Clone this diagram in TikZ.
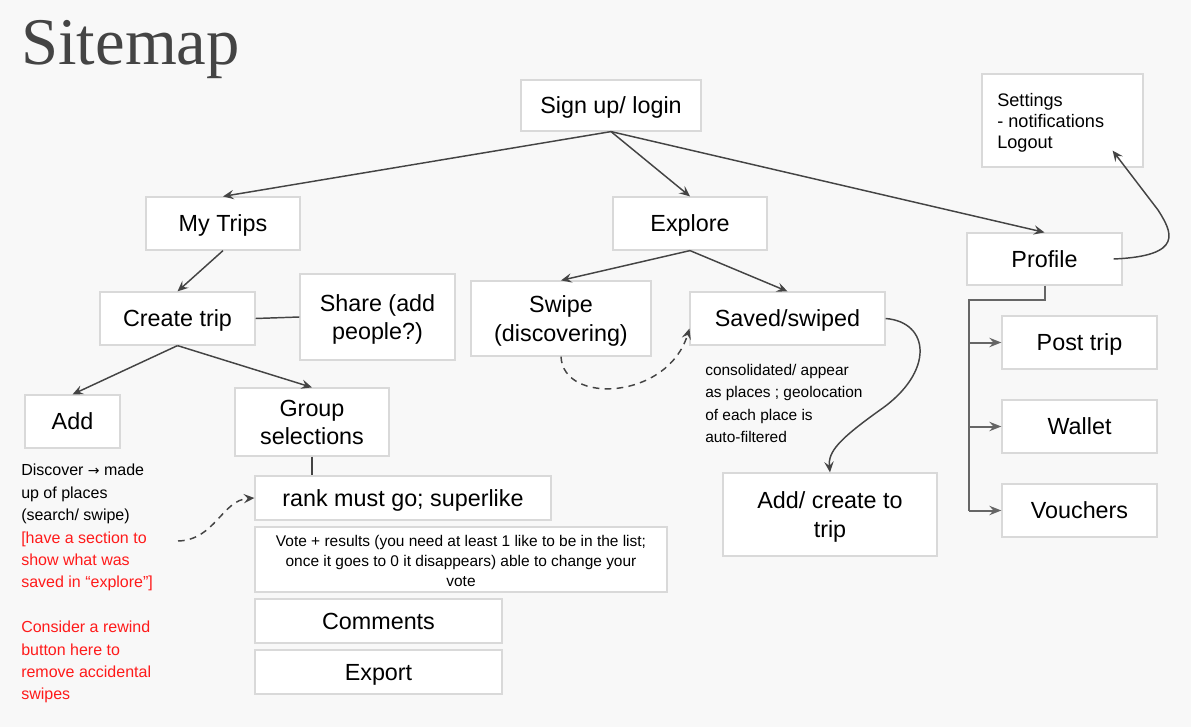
\documentclass[tikz,border=0pt]{standalone}
\usepackage{fontspec}
\setmainfont{Liberation Sans}
\newfontfamily\titlefont{Liberation Serif}
\newfontfamily\arrowfont{DejaVu Sans}
\usetikzlibrary{arrows.meta,calc}
\definecolor{bg}{HTML}{F8F8F8}
\definecolor{boxborder}{HTML}{D9D9D9}
\definecolor{linec}{HTML}{444444}
\definecolor{treec}{HTML}{666666}
\definecolor{notered}{HTML}{FF1A1A}
\definecolor{titlec}{HTML}{444444}
\tikzset{
  box/.style={draw=boxborder, fill=white, line width=0.9pt, inner sep=0pt, align=center,
    font=\fontsize{17.5pt}{21.5pt}\selectfont},
  smallbox/.style={font=\fontsize{11.6pt}{15pt}\selectfont},
  arr/.style={draw=linec, line width=1.1pt, -{Stealth[length=8pt,width=7pt,inset=3pt]}},
  plain/.style={draw=linec, line width=1.1pt},
  dsh/.style={arr, dashed, dash pattern=on 5pt off 4pt},
  tree/.style={draw=treec, line width=1.5pt},
  treearr/.style={tree, -{Stealth[length=9pt,width=7pt,inset=3pt]}},
  note/.style={inner sep=0pt, align=left, anchor=north west}
}
\newcommand\bx[7][]{\node[box,#1,minimum width={(#5-#3)*0.75pt},minimum height={(#6-#4)*0.75pt}] (#2) at ({(#3+#5)/2},{(#4+#6)/2}) {\raisebox{-2pt}[\height][\depth]{\begin{tabular}{@{}c@{}}#7\end{tabular}}};}
\renewcommand{\arraystretch}{1}
\begin{document}
\begin{tikzpicture}[x=0.75pt,y=-0.75pt]
\fill[bg] (0,0) rectangle (1191,727);
\useasboundingbox (0,0) rectangle (1191,727);
\node[anchor=base west, inner sep=0pt, text=titlec, font=\titlefont\fontsize{50pt}{55pt}\selectfont] (title) at (21,65) {Sitemap};

\bx{signup}{521}{80}{701}{131}{Sign up/ login}
\bx{settings}{982}{74}{1143}{167}{}
\node[inner sep=0pt, align=left, anchor=north west, font=\fontsize{13.6pt}{15.8pt}\selectfont] (settingstext) at (997,93) {Settings\\- notifications\\Logout};
\bx{mytrips}{146}{197}{300}{250}{My Trips}
\bx{explore}{613}{197}{767}{250}{Explore}
\bx{profile}{967}{233}{1122}{285}{Profile}
\bx{create}{100}{292}{255}{345}{Create trip}
\bx{share}{300}{274}{455}{360}{Share (add\\people?)}
\bx{swipe}{471}{281}{651}{356}{Swipe\\(discovering)}
\bx{saved}{690}{292}{885}{345}{Saved/swiped}
\bx{post}{1002}{316}{1157}{369}{Post trip}
\bx{add}{25}{395}{120}{448}{Add}
\bx{group}{235}{388}{389}{456}{Group\\selections}
\bx{wallet}{1002}{400}{1157}{453}{Wallet}
\bx{vouchers}{1002}{484}{1157}{537}{Vouchers}
\bx{addcreate}{723}{473}{937}{556}{Add/ create to\\trip}
\bx{rank}{255}{476}{551}{520}{rank must go; superlike}
\bx[smallbox]{vote}{255}{527}{667}{592}{Vote + results (you need at least 1 like to be in the list;\\once it goes to 0 it disappears) able to change your\\vote}
\bx{comments}{255}{599}{502}{643}{Comments}
\bx{export}{255}{650}{502}{694}{Export}

\node[note, font=\fontsize{12pt}{16.8pt}\selectfont] (addnote) at (21,464)
 {Discover {\arrowfont\fontsize{10.5pt}{10pt}\selectfont →} made\\up of places\\(search/ swipe)\\
  \textcolor{notered}{[have a section to}\\\textcolor{notered}{show what was}\\\textcolor{notered}{saved in “explore”]}\\[16.8pt]
  \textcolor{notered}{Consider a rewind}\\\textcolor{notered}{button here to}\\\textcolor{notered}{remove accidental}\\\textcolor{notered}{swipes}};
\node[note, font=\fontsize{11.6pt}{16.8pt}\selectfont] (savednote) at (705,364)
 {consolidated/ appear\\as places ; geolocation\\of each place is\\auto-filtered};

% connectors
\draw[arr] (signup.south) -- (mytrips.north);
\draw[arr] (signup.south) -- (explore.north);
\draw[arr] (signup.south) -- (profile.north);
\draw[arr] (mytrips.south) -- (create.north);
\draw[plain] (create.east) -- (share.west);
\draw[arr] (create.south) -- (add.north);
\draw[arr] (create.south) -- (group.north);
\draw[plain] (group.south) -- (group.south |- rank.north);
\draw[arr] (explore.south) -- (swipe.north);
\draw[arr] (explore.south) -- (saved.north);
\draw[dsh] (swipe.south) .. controls (563,405) and (668,400) .. ($(saved.west)+(0,10)$);
\draw[arr] (saved.east) .. controls (930,322) and (935,372) .. (880,410) .. controls (838,440) and (828,452) .. (addcreate.north);
\draw[arr] ($(profile.east)+(-9,0)$) .. controls (1185,256) and (1172,232) .. (1158,210) -- ($(settings.south east)+(-31,-17)$);
\coordinate (tk) at (969,300);
\draw[tree] (profile.south) |- (tk) -- (tk |- vouchers.west);
\draw[treearr] (tk |- post.west) -- (post.west);
\draw[treearr] (tk |- wallet.west) -- (wallet.west);
\draw[treearr] (tk |- vouchers.west) -- (vouchers.west);
\coordinate (dstart) at (178,541);
\draw[dsh] (dstart) .. controls (215,540) and (222,500) .. (rank.west);
\end{tikzpicture}
\end{document}
